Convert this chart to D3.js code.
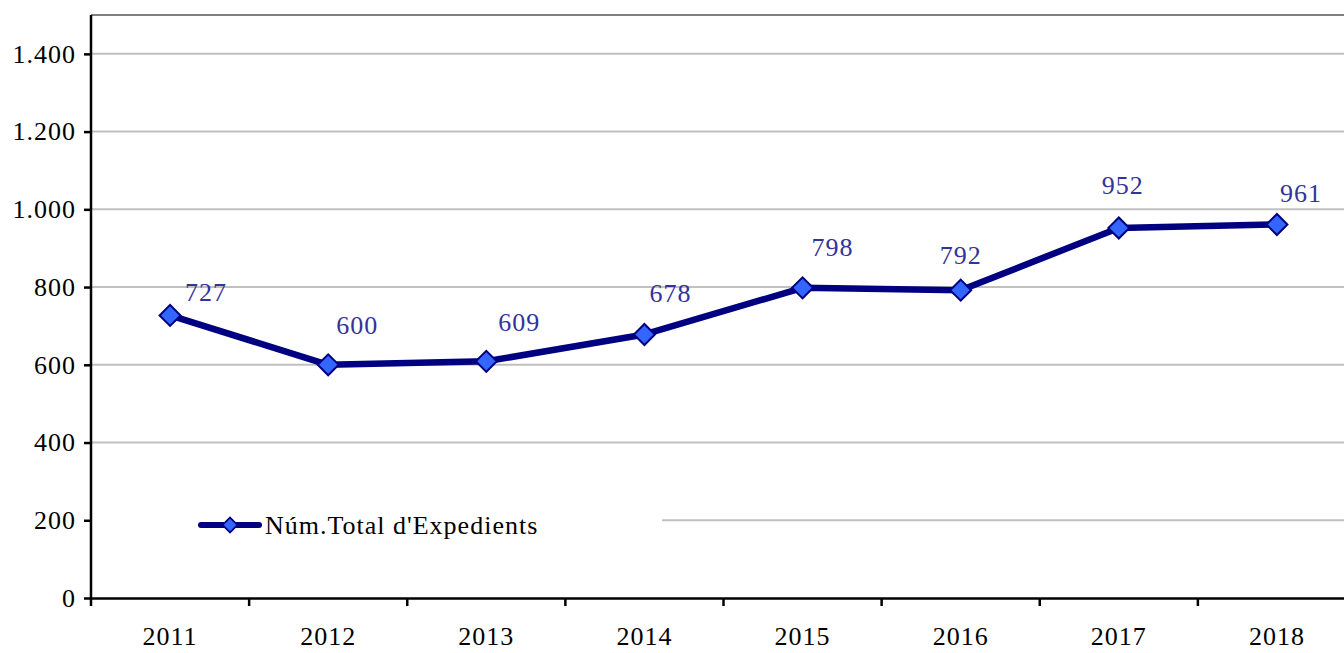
<!DOCTYPE html>
<html>
<head>
<meta charset="utf-8">
<script src="https://cdn.jsdelivr.net/npm/d3@7"></script>
<style>
  body { margin: 0; background: #fff; }
  svg { display: block; font-family: "Liberation Serif", "DejaVu Serif", serif; }
  svg text { font-size: 26px; letter-spacing: 1px; }
</style>
</head>
<body>
<svg></svg>
<script>
let years = ["2011", "2012", "2013", "2014", "2015", "2016", "2017", "2018"];
let expedients = [727, 600, 609, 678, 798, 792, 952, 961];
let yTicks = [0, 200, 400, 600, 800, 1000, 1200, 1400];
let seriesName = "Núm.Total d'Expedients";

// label nudges, as placed in the original
let labelDx = [36, 29, 33, 26, 30, 0, 4, 24];
let labelDy = [-24, -40, -39, -42, -41, -35, -43, -32];

let width = 1344;
let height = 653;
let plotLeft = 91;
let plotTop = 15;
let plotBottom = 598;
let plotRight = 1356;

let svg = d3.select("svg").attr("width", width).attr("height", height);

let xScale = d3.scaleBand().domain(years).range([plotLeft, plotRight]);
let yScale = d3.scaleLinear().domain([0, 1500]).range([plotBottom, plotTop]);

// gridlines
svg.append("g")
  .selectAll("line")
  .data(yTicks.filter((d) => d > 0))
  .enter()
  .append("line")
  .attr("x1", plotLeft)
  .attr("x2", plotRight)
  .attr("y1", (d) => yScale(d))
  .attr("y2", (d) => yScale(d))
  .attr("stroke", "#c0c0c0")
  .attr("stroke-width", 2);

// top border
svg.append("line")
  .attr("x1", plotLeft).attr("x2", plotRight)
  .attr("y1", plotTop).attr("y2", plotTop)
  .attr("stroke", "#808080").attr("stroke-width", 2);

// legend box (drawn under the axes so it hides the gridline)
let legend = svg.append("g").attr("transform", "translate(0,525)");
legend.append("rect")
  .attr("x", plotLeft + 1).attr("y", -18)
  .attr("width", 662 - plotLeft - 1).attr("height", 36)
  .attr("fill", "#fff");

// y axis
let yAxis = d3.axisLeft(yScale)
  .tickValues(yTicks)
  .tickSize(7)
  .tickPadding(8)
  .tickFormat((d) => d3.format(",")(d).replace(/,/g, "."));

let gy = svg.append("g").attr("transform", `translate(${plotLeft},0)`).call(yAxis);
gy.attr("font-family", null).attr("font-size", null);
gy.select(".domain").attr("d", `M0,${plotTop}V${plotBottom}`).attr("stroke", "#000").attr("stroke-width", 2.5);
gy.selectAll(".tick line").attr("stroke", "#000").attr("stroke-width", 2.5);
gy.selectAll("text").attr("fill", "#000");

// x axis
let xAxis = d3.axisBottom(xScale).tickSize(0).tickPadding(29);
let gx = svg.append("g").attr("transform", `translate(0,${plotBottom})`).call(xAxis);
gx.attr("font-family", null).attr("font-size", null);
gx.select(".domain").attr("stroke", "#000").attr("stroke-width", 2.5);
gx.selectAll("text").attr("fill", "#000");

// x boundary ticks
gx.append("g")
  .selectAll("line")
  .data(years)
  .enter()
  .append("line")
  .attr("x1", (d) => xScale(d))
  .attr("x2", (d) => xScale(d))
  .attr("y1", 0)
  .attr("y2", 8)
  .attr("stroke", "#000")
  .attr("stroke-width", 2.5);

let cx = (i) => xScale(years[i]) + xScale.bandwidth() / 2;

// series line
let line = d3.line()
  .x((d, i) => cx(i))
  .y((d) => yScale(d));

svg.append("path")
  .datum(expedients)
  .attr("d", line)
  .attr("fill", "none")
  .attr("stroke", "#000080")
  .attr("stroke-width", 6.5)
  .attr("stroke-linejoin", "round");

let diamond = d3.symbol().type(d3.symbolSquare).size(220);
let smallDiamond = d3.symbol().type(d3.symbolSquare).size(110);

svg.append("g")
  .selectAll("path")
  .data(expedients)
  .enter()
  .append("path")
  .attr("d", diamond)
  .attr("transform", (d, i) => `translate(${cx(i)},${yScale(d)}) rotate(45)`)
  .attr("fill", "#3366ff")
  .attr("stroke", "#000080")
  .attr("stroke-width", 2);

// data labels
svg.append("g")
  .selectAll("text")
  .data(expedients)
  .enter()
  .append("text")
  .attr("x", (d, i) => cx(i) + labelDx[i])
  .attr("y", (d, i) => yScale(d) + labelDy[i])
  .attr("text-anchor", "middle")
  .attr("dy", "0.35em")
  .attr("fill", "#333399")
  .text((d) => d);

// legend entry
legend.append("line")
  .attr("x1", 201).attr("x2", 259)
  .attr("y1", 0).attr("y2", 0)
  .attr("stroke", "#000080")
  .attr("stroke-width", 6)
  .attr("stroke-linecap", "round");
legend.append("path")
  .attr("d", smallDiamond)
  .attr("transform", "translate(230,0) rotate(45)")
  .attr("fill", "#3366ff")
  .attr("stroke", "#000080")
  .attr("stroke-width", 1.8);
legend.append("text")
  .attr("x", 265)
  .attr("y", 0)
  .attr("dy", "0.35em")
  .attr("fill", "#000")
  .text(seriesName);
</script>
</body>
</html>
